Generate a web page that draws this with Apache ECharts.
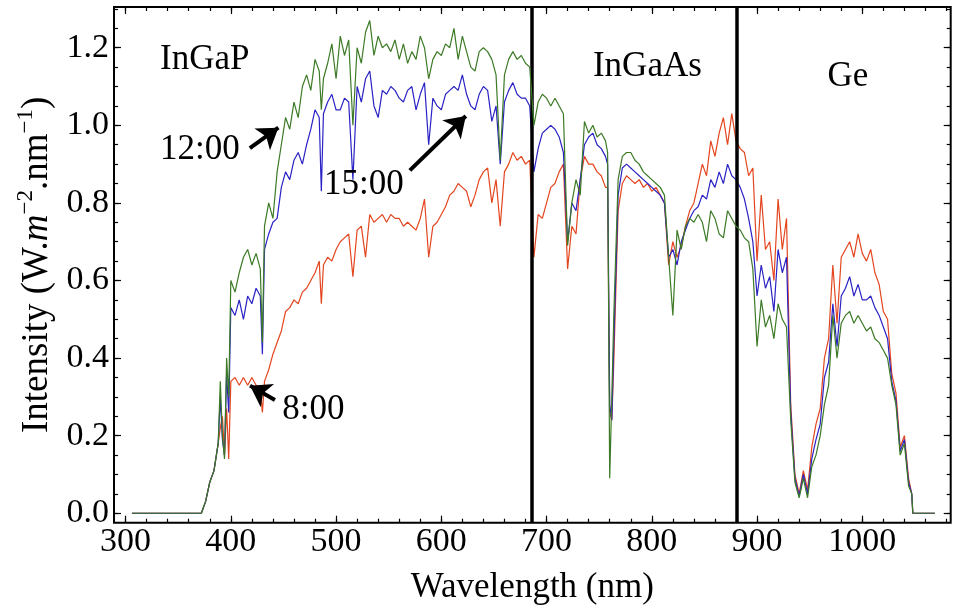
<!DOCTYPE html>
<html>
<head>
<meta charset="utf-8">
<script src="https://cdn.jsdelivr.net/npm/echarts@6/dist/echarts.min.js"></script>
<style>
html,body{margin:0;padding:0;background:#fff;}
#c{width:959px;height:615px;}
</style>
</head>
<body>
<div id="c"></div>
<script>
// ---------------- DATA ----------------
const wavelengths = [
  306, 372, 376, 380, 384, 388, 390, 392, 394, 396, 398,
  400, 404, 408, 412, 416, 420, 424, 428, 430, 432,
  436, 440, 444, 448, 452, 456, 460, 464, 468, 472, 476, 480, 484, 486, 488, 492, 496, 500,
  504, 508, 512, 516, 520, 524, 528, 532, 536, 540, 544, 548, 552, 556, 560, 564, 568, 572, 576, 580, 584, 588, 592, 596, 600,
  604, 608, 612, 616, 620, 624, 628, 632, 636, 640, 644, 648, 652, 656, 660, 664, 668, 672, 676, 680, 684,
  688, 692, 696, 700, 704, 708, 712, 716, 720, 724, 728, 732, 736, 740, 744, 748, 752, 756, 758, 760, 762, 764, 768, 772, 776, 780,
  784, 788, 792, 796, 800, 804, 808, 812, 816, 820, 824, 828, 832, 836, 840, 844, 848, 852, 856, 860, 864, 868, 872, 876, 880,
  884, 888, 892, 896, 900, 904, 908, 912, 916, 920, 924, 928,
  932, 936, 940, 944, 948, 952, 956, 960, 964, 968, 972, 976, 980, 984, 988, 992, 996, 1000, 1004, 1008, 1012, 1016, 1020, 1024, 1028, 1032, 1036, 1040, 1044, 1047, 1048, 1069
];
const intensity1200 = [
  0, 0, 0.03, 0.08, 0.11, 0.18, 0.34, 0.20, 0.14, 0.40, 0.30,
  0.60, 0.57, 0.62, 0.66, 0.68, 0.64, 0.67, 0.63, 0.44, 0.74,
  0.80, 0.76, 0.88, 0.95, 1.02, 0.99, 1.06, 1.02, 1.10, 1.13, 1.09, 1.17, 1.14, 1.04, 1.12, 1.16, 1.21, 1.12,
  1.23, 1.18, 1.22, 1.00, 1.20, 1.16, 1.24, 1.27, 1.18, 1.23, 1.20, 1.21, 1.19, 1.22, 1.17, 1.21, 1.16, 1.19, 1.17, 1.23, 1.20, 1.12, 1.17, 1.19, 1.18,
  1.21, 1.20, 1.25, 1.17, 1.23, 1.19, 1.15, 1.14, 1.19, 1.20, 1.19, 1.17, 1.13, 0.91, 1.13, 1.17, 1.19, 1.17, 1.18, 1.16, 1.15,
  1.00, 1.06, 1.08, 1.07, 1.05, 1.07, 1.05, 1.03, 0.69, 0.80, 0.86, 0.82, 1.01, 0.98, 1.00, 0.97, 0.98, 0.96, 0.93, 0.09, 0.30, 0.52, 0.86, 0.92, 0.93, 0.93,
  0.91, 0.90, 0.88, 0.87, 0.86, 0.85, 0.84, 0.82, 0.66, 0.51, 0.73, 0.68, 0.74, 0.76, 0.75, 0.77, 0.75, 0.70, 0.78, 0.76, 0.72, 0.71, 0.78, 0.76, 0.74,
  0.73, 0.71, 0.70, 0.63, 0.43, 0.55, 0.48, 0.51, 0.45, 0.54, 0.50, 0.48,
  0.24, 0.08, 0.04, 0.09, 0.04, 0.12, 0.15, 0.20, 0.28, 0.33, 0.51, 0.40, 0.49, 0.51, 0.52, 0.49, 0.51, 0.49, 0.47, 0.48, 0.45, 0.44, 0.42, 0.40, 0.33, 0.28, 0.15, 0.18, 0.07, 0.05, 0, 0
];
const intensity1500 = [
  0, 0, 0.03, 0.08, 0.11, 0.18, 0.30, 0.19, 0.15, 0.36, 0.26,
  0.53, 0.51, 0.55, 0.50, 0.56, 0.54, 0.58, 0.56, 0.41, 0.68,
  0.72, 0.75, 0.76, 0.84, 0.88, 0.86, 0.91, 0.93, 0.90, 0.95, 0.99, 1.04, 1.02, 0.83, 1.03, 1.06, 1.08, 1.04,
  1.04, 1.07, 1.06, 0.86, 1.10, 1.06, 1.12, 1.14, 1.05, 1.02, 1.09, 1.08, 1.10, 1.09, 1.07, 1.06, 1.09, 1.10, 1.04, 1.08, 1.11, 0.95, 1.07, 1.05, 1.04,
  1.08, 1.09, 1.10, 1.09, 1.13, 1.08, 1.05, 1.04, 1.08, 1.10, 1.09, 1.01, 1.05, 0.90, 1.06, 1.09, 1.11, 1.08, 1.07, 1.07, 1.05,
  0.88, 0.94, 0.98, 0.99, 1.00, 0.99, 0.97, 0.93, 0.70, 0.80, 0.78, 0.86, 0.95, 0.97, 0.98, 0.95, 0.94, 0.92, 0.90, 0.28, 0.24, 0.45, 0.82, 0.89, 0.90, 0.89,
  0.88, 0.87, 0.86, 0.85, 0.84, 0.83, 0.82, 0.80, 0.66, 0.68, 0.64, 0.70, 0.73, 0.76, 0.78, 0.79, 0.82, 0.81, 0.86, 0.84, 0.88, 0.85, 0.90, 0.87, 0.86,
  0.84, 0.81, 0.76, 0.70, 0.56, 0.64, 0.58, 0.61, 0.52, 0.68, 0.62, 0.66,
  0.26, 0.09, 0.045, 0.10, 0.05, 0.14, 0.19, 0.23, 0.35, 0.39, 0.54, 0.43, 0.56, 0.58, 0.61, 0.56, 0.59, 0.55, 0.55, 0.56, 0.53, 0.51, 0.48, 0.45, 0.34, 0.29, 0.16, 0.19, 0.08, 0.05, 0, 0
];
const intensity0800 = [
  0, 0, 0.03, 0.08, 0.11, 0.18, 0.22, 0.25, 0.15, 0.27, 0.14,
  0.34, 0.35, 0.33, 0.35, 0.33, 0.35, 0.33, 0.32, 0.26, 0.34,
  0.37, 0.41, 0.44, 0.47, 0.52, 0.53, 0.55, 0.54, 0.57, 0.58, 0.60, 0.62, 0.65, 0.54, 0.64, 0.66, 0.65, 0.68,
  0.70, 0.71, 0.72, 0.61, 0.73, 0.74, 0.66, 0.77, 0.75, 0.76, 0.77, 0.75, 0.77, 0.76, 0.76, 0.74, 0.75, 0.74, 0.73, 0.76, 0.81, 0.66, 0.74, 0.75, 0.77,
  0.79, 0.82, 0.83, 0.85, 0.84, 0.83, 0.79, 0.82, 0.86, 0.88, 0.89, 0.80, 0.86, 0.74, 0.88, 0.90, 0.93, 0.91, 0.92, 0.90, 0.91,
  0.66, 0.77, 0.76, 0.80, 0.84, 0.85, 0.88, 0.90, 0.63, 0.74, 0.72, 0.86, 0.92, 0.90, 0.90, 0.88, 0.87, 0.84, 0.84, 0.26, 0.24, 0.40, 0.78, 0.85, 0.87, 0.86,
  0.85, 0.86, 0.84, 0.85, 0.83, 0.84, 0.82, 0.80, 0.64, 0.70, 0.66, 0.69, 0.74, 0.78, 0.80, 0.85, 0.90, 0.87, 0.96, 0.92, 0.98, 1.02, 0.95, 1.03, 0.96,
  0.94, 0.93, 0.87, 0.89, 0.65, 0.82, 0.68, 0.70, 0.60, 0.81, 0.68, 0.76,
  0.28, 0.10, 0.05, 0.11, 0.06, 0.17, 0.23, 0.27, 0.40, 0.45, 0.64, 0.49, 0.66, 0.68, 0.70, 0.66, 0.72, 0.67, 0.65, 0.68, 0.62, 0.59, 0.52, 0.50, 0.36, 0.31, 0.17, 0.20, 0.09, 0.05, 0, 0
];
const seriesNames = ['12:00', '15:00', '8:00'];
const xMajorTicks = [300, 400, 500, 600, 700, 800, 900, 1000];
const xMinorTicks = [300, 320, 340, 360, 380, 400, 420, 440, 460, 480, 500, 520, 540, 560, 580, 600, 620, 640, 660, 680,
  700, 720, 740, 760, 780, 800, 820, 840, 860, 880, 900, 920, 940, 960, 980, 1000, 1020, 1040, 1060, 1080];
const yMajorTicks = [0, 0.2, 0.4, 0.6, 0.8, 1.0, 1.2];
const yMinorTicks = [0, 0.05, 0.1, 0.15, 0.2, 0.25, 0.3, 0.35, 0.4, 0.45, 0.5, 0.55, 0.6, 0.65, 0.7, 0.75, 0.8, 0.85,
  0.9, 0.95, 1.0, 1.05, 1.1, 1.15, 1.2, 1.25, 1.3];
const cellBoundaries = [686, 881];            // nm, thick vertical lines
const regionNames = ['InGaP', 'InGaAs', 'Ge'];
const regionLabelPos = [[375.3, 1.170], [795.8, 1.151], [986.3, 1.126]];
const timeLabelPos = [[370.6, 0.938], [526.4, 0.846], [478.4, 0.267]];
const arrowTails = [[418.1, 0.941], [570.1, 0.884], [441.9, 0.292]];
const arrowHeads = [[445.2, 0.994], [623.3, 1.024], [418.3, 0.329]];

// ---------------- CHART ----------------
const FONT = "'Liberation Serif', 'Times New Roman', serif";
const colors = ['#3c7a26', '#2a22c4', '#e3461f'];
const pair = arr => wavelengths.map((w, i) => [w, arr[i]]);
const X_MIN = 289, X_MAX = 1084, Y_MIN = -0.0243, Y_MAX = 1.305;

function tickAxis(dim, position, ticks, len, extra) {
  const base = {
    type: 'value', gridIndex: 0, position: position,
    min: dim === 'x' ? X_MIN : Y_MIN, max: dim === 'x' ? X_MAX : Y_MAX,
    axisLine: { show: false, onZero: false },
    splitLine: { show: false },
    axisTick: { show: true, inside: true, length: len, customValues: ticks, lineStyle: { color: '#000', width: 1.2 } },
    axisLabel: { show: false }
  };
  return Object.assign(base, extra || {});
}

const option = {
  animation: false,
  backgroundColor: '#fff',
  grid: [{ left: 114, right: 8.3, top: 7, bottom: 92.3, show: true, borderColor: '#000', borderWidth: 2, backgroundColor: 'transparent' }],
  xAxis: [
    tickAxis('x', 'bottom', xMajorTicks, 7, {
      axisLabel: { show: true, customValues: xMajorTicks, margin: 2, color: '#000', fontFamily: FONT, fontSize: 34,
        formatter: v => String(v) },
      name: 'Wavelength (nm)', nameLocation: 'middle', nameGap: 48,
      nameTextStyle: { color: '#000', fontFamily: FONT, fontSize: 35 }
    }),
    tickAxis('x', 'bottom', xMinorTicks, 4),
    tickAxis('x', 'top', xMajorTicks, 7),
    tickAxis('x', 'top', xMinorTicks, 4)
  ],
  yAxis: [
    tickAxis('y', 'left', yMajorTicks, 7, {
      axisLabel: { show: true, customValues: yMajorTicks, margin: 5, color: '#000', fontFamily: FONT, fontSize: 34,
        formatter: v => Number(v).toFixed(1) },
      name: '{a|Intensity (W.}{i|m}{s|−2}{a|.nm}{s|−1}{a|)}',
      nameLocation: 'middle', nameGap: 54,
      nameTextStyle: {
        color: '#000',
        rich: {
          a: { fontFamily: FONT, fontSize: 37, color: '#000', lineHeight: 46 },
          i: { fontFamily: FONT, fontSize: 37, fontStyle: 'italic', color: '#000', lineHeight: 46 },
          s: { fontFamily: FONT, fontSize: 23, color: '#000', lineHeight: 18, verticalAlign: 'top' }
        }
      }
    }),
    tickAxis('y', 'left', yMinorTicks, 4),
    tickAxis('y', 'right', yMajorTicks, 7),
    tickAxis('y', 'right', yMinorTicks, 4)
  ],
  series: [
    { name: seriesNames[2], type: 'line', data: pair(intensity0800),
      symbol: 'none', clip: false, lineStyle: { color: colors[2], width: 1.2 }, z: 3 },
    { name: seriesNames[1], type: 'line', data: pair(intensity1500),
      symbol: 'none', clip: false, lineStyle: { color: colors[1], width: 1.2 }, z: 4 },
    { name: seriesNames[0], type: 'line', data: pair(intensity1200),
      symbol: 'none', clip: false, lineStyle: { color: colors[0], width: 1.2 }, z: 5 },
    { name: 'boundaries', type: 'line', data: [], z: 10, silent: true,
      markLine: {
        silent: true, symbol: ['none', 'none'], label: { show: false },
        lineStyle: { color: '#000', width: 3.5, type: 'solid' },
        emphasis: { disabled: true },
        data: cellBoundaries.map(v => ({ xAxis: v }))
      }
    },
    { name: 'arrows', type: 'line', data: [], z: 12, silent: true,
      markLine: {
        silent: true, symbol: ['none', 'arrow'], symbolSize: 20, label: { show: false },
        lineStyle: { color: '#000', width: 4, type: 'solid', opacity: 1 },
        itemStyle: { color: '#000' },
        emphasis: { disabled: true },
        data: arrowTails.map((t, i) => [{ coord: t }, { coord: arrowHeads[i] }])
      }
    }
  ]
};

const chart = echarts.init(document.getElementById('c'), null, { renderer: 'canvas' });
chart.setOption(option);

const textEls = [];
const addText = (txt, pos) => {
  const p = chart.convertToPixel({ gridIndex: 0 }, pos);
  textEls.push({
    type: 'text', x: p[0], y: p[1], z: 100, silent: true,
    style: { text: txt, fill: '#000', font: '35px ' + FONT, align: 'center', verticalAlign: 'middle' }
  });
};
regionNames.forEach((t, i) => addText(t, regionLabelPos[i]));
seriesNames.forEach((t, i) => addText(t, timeLabelPos[i]));
chart.setOption({ graphic: textEls });
</script>
</body>
</html>
